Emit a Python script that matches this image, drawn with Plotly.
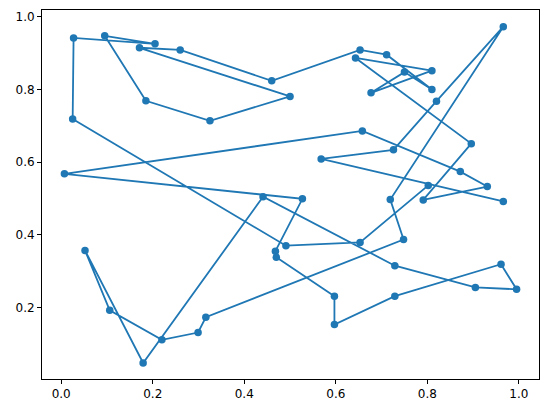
import plotly.graph_objects as go

x_values = [0.802, 0.653, 0.491, 0.025, 0.027, 0.205, 0.095, 0.185, 0.325, 0.500,
            0.171, 0.260, 0.460, 0.653, 0.711, 0.810, 0.750, 0.677, 0.810, 0.643,
            0.896, 0.791, 0.931, 0.872, 0.658, 0.007, 0.527, 0.468, 0.470, 0.597,
            0.597, 0.729, 0.961, 0.995, 0.905, 0.729, 0.441, 0.179, 0.052, 0.106,
            0.220, 0.299, 0.316, 0.748, 0.719, 0.966, 0.820, 0.726, 0.568, 0.966]
y_values = [0.536, 0.379, 0.370, 0.719, 0.942, 0.926, 0.948, 0.769, 0.714, 0.781,
            0.915, 0.909, 0.824, 0.909, 0.896, 0.800, 0.848, 0.791, 0.852, 0.887,
            0.651, 0.496, 0.533, 0.574, 0.686, 0.568, 0.499, 0.355, 0.338, 0.231,
            0.153, 0.231, 0.319, 0.250, 0.255, 0.315, 0.505, 0.047, 0.357, 0.192,
            0.111, 0.131, 0.173, 0.387, 0.497, 0.973, 0.768, 0.634, 0.609, 0.492]

tick_values = [0.0, 0.2, 0.4, 0.6, 0.8, 1.0]
tick_labels = ["0.0", "0.2", "0.4", "0.6", "0.8", "1.0"]

color = "#1f77b4"

fig = go.Figure()
fig.add_trace(go.Scatter(
    x=x_values, y=y_values, mode="lines+markers",
    line=dict(color=color, width=1.8),
    marker=dict(color=color, size=7.5),
    showlegend=False,
))

axis_common = dict(
    showgrid=False, zeroline=False, showline=True, mirror=True,
    linecolor="black", linewidth=1, ticks="outside", ticklen=4,
    tickwidth=1, tickcolor="black",
    tickvals=tick_values, ticktext=tick_labels,
    tickfont=dict(family="DejaVu Sans", size=12, color="black"),
)

fig.update_layout(
    width=547, height=413,
    margin=dict(l=42, r=8, t=10, b=34),
    paper_bgcolor="white", plot_bgcolor="white",
    xaxis=dict(range=[-0.042, 1.044], **axis_common),
    yaxis=dict(range=[0.003, 1.019], **axis_common),
)

fig.write_html("out.html")
